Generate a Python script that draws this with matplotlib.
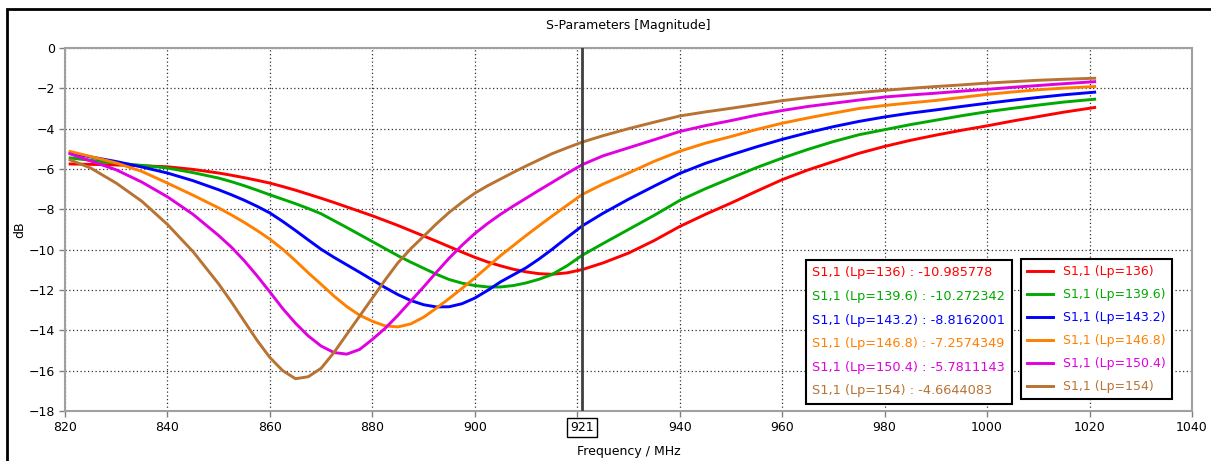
import matplotlib.pyplot as plt
from matplotlib.patches import Rectangle

# frequency points (MHz), denser around the resonances
freq = [821, 825, 830, 835, 840, 845, 850,
        852.5, 855, 857.5, 860, 862.5, 865, 867.5, 870, 872.5, 875, 877.5, 880,
        882.5, 885, 887.5, 890, 892.5, 895, 897.5, 900, 902.5, 905, 907.5, 910,
        912.5, 915, 918,
        921,
        925, 930, 935, 940, 945, 950, 955, 960, 965, 970, 975, 980, 985, 990,
        995, 1000, 1005, 1010, 1015, 1021]

# |S11| in dB for each Lp
s11_136 = [-5.75, -5.77, -5.80, -5.84, -5.89, -6.02, -6.20,
           -6.31, -6.43, -6.56, -6.70, -6.87, -7.05, -7.25, -7.45, -7.66, -7.88, -8.10, -8.32,
           -8.56, -8.80, -9.06, -9.32, -9.58, -9.85, -10.12, -10.38, -10.61, -10.80, -10.97, -11.10,
           -11.19, -11.22, -11.15,
           -10.985778,
           -10.66, -10.17, -9.55, -8.85, -8.25, -7.69, -7.10, -6.53, -6.05, -5.63, -5.22, -4.88,
           -4.58, -4.32, -4.08, -3.86, -3.62, -3.40, -3.18, -2.95]
s11_139_6 = [-5.45, -5.57, -5.71, -5.82, -5.95, -6.18, -6.45,
             -6.63, -6.83, -7.05, -7.28, -7.50, -7.72, -7.96, -8.22, -8.56, -8.90, -9.25, -9.60,
             -9.95, -10.30, -10.62, -10.92, -11.22, -11.48, -11.66, -11.78, -11.85, -11.85, -11.78, -11.65,
             -11.47, -11.24, -10.80,
             -10.272342,
             -9.70, -9.00, -8.30, -7.56, -6.98, -6.45, -5.93, -5.46, -5.03, -4.64, -4.30, -4.05,
             -3.80, -3.58, -3.36, -3.16, -2.99, -2.83, -2.68, -2.54]
s11_143_2 = [-5.20, -5.40, -5.63, -5.90, -6.20, -6.58, -7.03,
             -7.28, -7.55, -7.85, -8.18, -8.60, -9.05, -9.52, -9.98, -10.38, -10.75, -11.12, -11.50,
             -11.88, -12.23, -12.52, -12.73, -12.84, -12.83, -12.68, -12.40, -12.02, -11.60, -11.25, -10.90,
             -10.47, -10.00, -9.40,
             -8.8162001,
             -8.20, -7.50, -6.85, -6.22, -5.72, -5.30, -4.90, -4.53, -4.20, -3.90, -3.64, -3.42,
             -3.23, -3.07, -2.90, -2.74, -2.59, -2.45, -2.32, -2.19]
s11_146_8 = [-5.13, -5.38, -5.70, -6.12, -6.70, -7.30, -7.93,
             -8.28, -8.65, -9.05, -9.48, -9.98, -10.55, -11.15, -11.72, -12.30, -12.82, -13.25, -13.55,
             -13.78, -13.83, -13.68, -13.35, -12.90, -12.42, -11.92, -11.40, -10.85, -10.30, -9.80, -9.30,
             -8.82, -8.35, -7.80,
             -7.2574349,
             -6.75, -6.20, -5.62, -5.12, -4.72, -4.39, -4.04, -3.73, -3.47, -3.23, -3.00, -2.85,
             -2.72, -2.60, -2.45, -2.30, -2.18, -2.07, -1.99, -1.91]
s11_150_4 = [-5.25, -5.60, -6.04, -6.65, -7.38, -8.25, -9.30,
             -9.88, -10.55, -11.30, -12.10, -12.92, -13.65, -14.28, -14.78, -15.10, -15.18, -14.95, -14.45,
             -13.90, -13.25, -12.55, -11.85, -11.12, -10.42, -9.78, -9.20, -8.70, -8.25, -7.84, -7.45,
             -7.06, -6.68, -6.22,
             -5.7811143,
             -5.35, -4.95, -4.55, -4.14, -3.85, -3.60, -3.33, -3.10, -2.90, -2.74, -2.58, -2.43,
             -2.33, -2.24, -2.14, -2.05, -1.95, -1.86, -1.77, -1.67]
s11_154 = [-5.55, -5.95, -6.70, -7.60, -8.75, -10.10, -11.70,
           -12.60, -13.55, -14.50, -15.35, -16.00, -16.40, -16.30, -15.88, -15.10, -14.20, -13.30, -12.40,
           -11.50, -10.65, -9.95, -9.34, -8.72, -8.15, -7.65, -7.20, -6.83, -6.50, -6.17, -5.85,
           -5.55, -5.25, -4.95,
           -4.6644083,
           -4.35, -4.00, -3.68, -3.37, -3.17, -2.99, -2.80, -2.61, -2.46, -2.33, -2.21, -2.10,
           -2.00, -1.91, -1.83, -1.74, -1.67, -1.60, -1.55, -1.50]

lp_labels = ["136", "139.6", "143.2", "146.8", "150.4", "154"]
readout = ["-10.985778", "-10.272342", "-8.8162001", "-7.2574349", "-5.7811143", "-4.6644083"]
series = [s11_136, s11_139_6, s11_143_2, s11_146_8, s11_150_4, s11_154]
colors = ["#ff0000", "#00aa00", "#0000ff", "#ff8000", "#e000e0", "#b87333"]
marker_f = 921

fig = plt.figure(figsize=(12.11, 4.61), dpi=100)
ax = fig.add_axes([65 / 1211, 50 / 461, 1127 / 1211, 363 / 461])

lines = []
for vals, lp, c in zip(series, lp_labels, colors):
    ln, = ax.plot(freq, vals, color=c, lw=2.1, label=f"S1,1 (Lp={lp})", zorder=3,
                  solid_joinstyle="round")
    lines.append(ln)

ax.set_xlim(820, 1040)
ax.set_ylim(-18, 0)
xt = list(range(820, 1041, 20))
ax.set_xticks(xt)
ax.set_xticklabels(["" if t == 920 else str(t) for t in xt])
ax.set_yticks(range(-18, 1, 2))
ax.tick_params(labelsize=9, length=4, width=1, color="#808080", pad=3)
ax.grid(True, color="#333333", linestyle=(0, (1, 2)), linewidth=0.9)
for s in ax.spines.values():
    s.set_color("#a0a0a0")
    s.set_linewidth(1.5)

ax.set_title("S-Parameters [Magnitude]", fontsize=9, pad=14)
ax.set_xlabel("Frequency / MHz", fontsize=9, labelpad=8)
ax.set_ylabel("dB", fontsize=9, labelpad=2)

# marker at 921 MHz
ax.axvline(marker_f, color="#404040", lw=2, zorder=4)
ax.annotate(str(marker_f), xy=(marker_f, 0), xycoords=("data", "axes fraction"),
            xytext=(0, -7), textcoords="offset points", ha="center", va="top",
            fontsize=9, bbox=dict(boxstyle="square,pad=0.25", fc="white", ec="black", lw=1))

# legend with lines
leg1 = ax.legend(handles=lines, loc="upper left", bbox_to_anchor=(0.848, 0.419),
                 borderaxespad=0, fontsize=9, fancybox=False, edgecolor="black",
                 framealpha=1, handlelength=2.1, labelspacing=0.8, borderpad=0.5)
leg1.get_frame().set_linewidth(1.5)
for t, c in zip(leg1.get_texts(), colors):
    t.set_color(c)
ax.add_artist(leg1)

# marker readout box
dummies = [ax.plot([], [], lw=0)[0] for _ in series]
leg2 = ax.legend(dummies, [f"S1,1 (Lp={lp}) : {r}" for lp, r in zip(lp_labels, readout)],
                 loc="upper left", bbox_to_anchor=(0.6575, 0.416), borderaxespad=0,
                 fontsize=9.3, fancybox=False, edgecolor="black", framealpha=1,
                 handlelength=0, handletextpad=0, labelspacing=0.82, borderpad=0.5)
leg2.get_frame().set_linewidth(1.5)
for t, c in zip(leg2.get_texts(), colors):
    t.set_color(c)

# outer frame
fig.patches.append(Rectangle((7 / 1211, -0.1), 1.2, (461 - 9) / 461 + 0.1,
                             transform=fig.transFigure, fill=False, ec="black", lw=2))

fig.savefig("out.png", dpi=100)
